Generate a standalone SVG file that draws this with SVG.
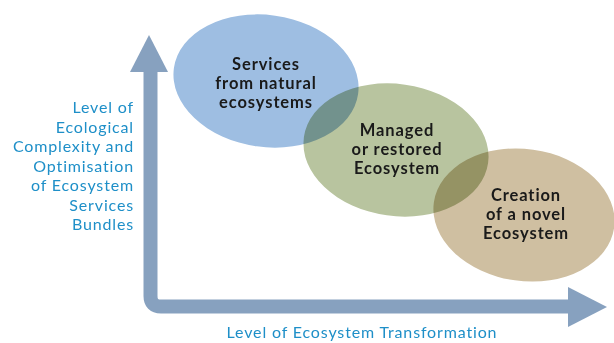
<svg xmlns="http://www.w3.org/2000/svg" width="614" height="343" viewBox="0 0 614 343">
<style>
.lbl{font-family:Lato,"Noto Sans","DejaVu Sans",sans-serif;font-weight:bold;font-size:16.5px;letter-spacing:0.9px;fill:#1a1a1a;text-anchor:middle}
.axis{font-family:Lato,"Noto Sans","DejaVu Sans",sans-serif;font-size:16px;letter-spacing:0.85px;fill:#1e8fc8}
.ell{mix-blend-mode:multiply}
</style>
<rect width="614" height="343" fill="#ffffff"/>
<g id="connectors">
<path d="M150.5 70 V296 Q150.5 306.5 161 306.5 H570" fill="none" stroke="#87a1bf" stroke-width="14"/>
<polygon points="130,72 168,72 149,35" fill="#87a1bf"/>
<polygon points="568,287 568,327 607,307" fill="#87a1bf"/>
</g>
<g id="node-natural">
<ellipse class="ell" cx="266" cy="81" rx="93" ry="66" transform="rotate(8 266 81)" fill="#9ebee2"/>
<text class="lbl" x="266" y="70">Services</text>
<text class="lbl" x="266" y="89">from natural</text>
<text class="lbl" x="266" y="108">ecosystems</text>
</g>
<g id="node-managed">
<ellipse class="ell" cx="396" cy="150" rx="93" ry="66" transform="rotate(8 396 150)" fill="#b8c49f"/>
<text class="lbl" x="397" y="136">Managed</text>
<text class="lbl" x="397" y="155">or restored</text>
<text class="lbl" x="397" y="174">Ecosystem</text>
</g>
<g id="node-novel">
<ellipse class="ell" cx="524" cy="215" rx="91" ry="66" transform="rotate(8 524 215)" fill="#cfbfa1"/>
<text class="lbl" x="526" y="201">Creation</text>
<text class="lbl" x="526" y="220">of a novel</text>
<text class="lbl" x="526" y="239">Ecosystem</text>
</g>
<g id="label-y">
<text class="axis" text-anchor="end" x="134" y="113">Level of</text>
<text class="axis" text-anchor="end" x="134" y="132.5">Ecological</text>
<text class="axis" text-anchor="end" x="134" y="152">Complexity and</text>
<text class="axis" text-anchor="end" x="134" y="171.5">Optimisation</text>
<text class="axis" text-anchor="end" x="134" y="191">of Ecosystem</text>
<text class="axis" text-anchor="end" x="134" y="210.5">Services</text>
<text class="axis" text-anchor="end" x="134" y="230">Bundles</text>
</g>
<g id="label-x">
<text class="axis" text-anchor="middle" x="362" y="338">Level of Ecosystem Transformation</text>
</g>
</svg>
